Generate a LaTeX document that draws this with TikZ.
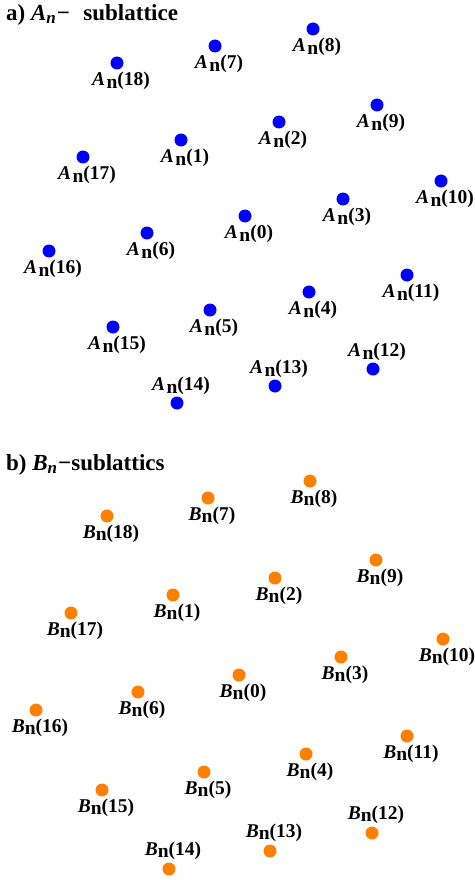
\documentclass[tikz,border=0pt]{standalone}
\usepackage{fontspec}
\setmainfont{Liberation Serif}
\definecolor{dotblue}{RGB}{0,0,255}
\definecolor{dotorange}{RGB}{255,128,0}
\newcommand\labA[1]{\textit{A}\kern1.5pt\raisebox{-2.5pt}{n}(#1)}
\newcommand\labB[1]{\textit{B}\raisebox{-2pt}{n}(#1)}
\begin{document}
\begin{tikzpicture}[x=1pt,y=-1pt,
  adot/.style={circle,fill=dotblue,inner sep=0pt,minimum size=13pt},
  bdot/.style={circle,fill=dotorange,inner sep=0pt,minimum size=13pt},
  lab/.style={inner sep=0pt,font=\fontsize{19.5}{20}\selectfont\bfseries},
  ttl/.style={inner sep=0pt,anchor=west,font=\fontsize{23}{25}\selectfont\bfseries}]
\useasboundingbox (0,0) rectangle (474,880);
\node[ttl] (ta) at (6,15) {a) \textit{A\raisebox{-3pt}{\fontsize{17}{17}\selectfont n}}\kern1pt−\,\, sublattice};
\node[ttl] (tb) at (6,465) {b) \textit{B\raisebox{-3pt}{\fontsize{17}{17}\selectfont n}}\kern1pt−sublattics};
% A lattice
\foreach \n/\x/\y/\d in {0/245/216/18,1/181/140/18,2/279/122/18,3/343/199/18,4/309/292/18,5/210/310/18,6/147/233/18,7/215/46/18,8/313/29/18,9/377/105/18,10/441/181/18,11/407/275/18,12/373/369/-17,13/275/386/-17,14/177/403/-17,15/113/327/18,16/49/251/18,17/83/157/18,18/117/63/18}{
  \node[adot] (a\n) at (\x,\y) {};
  \node[lab] (la\n) at ([xshift=4pt,yshift=-\d pt]a\n) {\labA{\n}};
}
% B lattice
\foreach \n/\x/\y/\d in {0/239/675/18,1/173/595/18,2/275/578/18,3/341/657/18,4/306/754/18,5/204/772/18,6/138/692/18,7/208/498/18,8/310/481/18,9/376/560/18,10/443/639/18,11/407/736/18,12/372/833/-18,13/270/851/-18,14/169/869/-18,15/102/790/18,16/36/710/18,17/71/613/18,18/107/516/18}{
  \node[bdot] (b\n) at (\x,\y) {};
  \node[lab] (lb\n) at ([xshift=4pt,yshift=-\d pt]b\n) {\labB{\n}};
}
\end{tikzpicture}
\end{document}
